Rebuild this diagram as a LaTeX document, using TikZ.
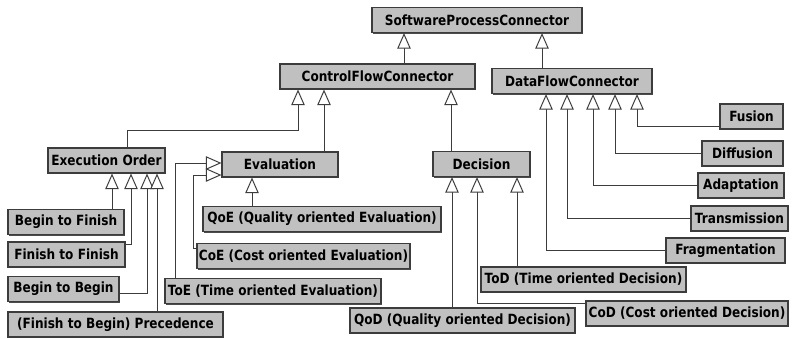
\documentclass[tikz,border=0pt]{standalone}
\usepackage{fontspec}
\setmainfont{DejaVu Sans}[FakeStretch=0.86]
\usetikzlibrary{arrows.meta,shadows}
\definecolor{boxgray}{RGB}{192,192,192}
\definecolor{edgegray}{RGB}{60,60,60}
\begin{document}
\begin{tikzpicture}[
    x=0.025cm,
    y=-0.025cm,
    every node/.style={font=\fontsize{10}{12}\selectfont\bfseries},
    cls/.style={rectangle,draw=edgegray,line width=0.8pt,fill=boxgray,inner sep=0pt,
        minimum height=0.625cm,
        drop shadow={shadow xshift=0.8pt,shadow yshift=-0.8pt,fill=black!70,opacity=1}},
    wd/.style={minimum width=#1*0.025cm},
    gen/.style={draw=edgegray,line width=0.7pt,-{Triangle[open,fill=white,length=11pt,width=9.5pt]}}
]
\useasboundingbox[fill=white] (0,0) rectangle (793,338);

\node[cls,wd=210] (spc) at (477,20) {SoftwareProcessConnector};
\node[cls,wd=195] (cfc) at (377.5,76.5) {ControlFlowConnector};
\node[cls,wd=160] (dfc) at (572,81) {DataFlowConnector};

\node[cls,wd=63] (fusion) at (751.5,116.5) {Fusion};
\node[cls,wd=81] (diffusion) at (742.5,153.5) {Diffusion};
\node[cls,wd=86] (adaptation) at (741,185.5) {Adaptation};
\node[cls,wd=97] (transmission) at (739.5,218.5) {Transmission};
\node[cls,wd=119] (fragmentation) at (725.5,250.5) {Fragmentation};

\node[cls,wd=97] (dec) at (481.5,164) {Decision};
\node[cls,wd=205] (tod) at (583.5,279.5) {ToD (Time oriented Decision)};
\node[cls,wd=202] (cod) at (687,313.5) {CoD (Cost oriented Decision)};
\node[cls,wd=225] (qod) at (462.5,320.5) {QoD (Quality oriented Decision)};

\node[cls,wd=116] (ev) at (280,164.5) {Evaluation};
\node[cls,wd=238] (qoe) at (322,219) {QoE (Quality oriented Evaluation)};
\node[cls,wd=213] (coe) at (303.5,256) {CoE (Cost oriented Evaluation)};
\node[cls,wd=216] (toe) at (273,291) {ToE (Time oriented Evaluation)};

\node[cls,wd=117] (eo) at (106.5,160.5) {Execution Order};
\node[cls,wd=116] (btf) at (66,222) {Begin to Finish};
\node[cls,wd=117] (ftf) at (66.5,254.5) {Finish to Finish};
\node[cls,wd=111] (btb) at (63.5,289) {Begin to Begin};
\node[cls,wd=215] (prec) at (115.5,324.5) {(Finish to Begin) Precedence};

\draw[gen] (cfc.north -| 404,0) -- (spc.south -| 404,0);
\draw[gen] (dfc.north -| 542,0) -- (spc.south -| 542,0);

\draw[gen] (eo.north -| 127,0) |- (298,130) -- (cfc.south -| 298,0);
\draw[gen] (ev.north -| 324,0) -- (cfc.south -| 324,0);
\draw[gen] (dec.north -| 451,0) -- (cfc.south -| 451,0);

\draw[gen] (fusion.west |- 0,126) -| (dfc.south -| 637,0);
\draw[gen] (diffusion.west) -| (dfc.south -| 615,0);
\draw[gen] (adaptation.west) -| (dfc.south -| 593,0);
\draw[gen] (transmission.west) -| (dfc.south -| 567,0);
\draw[gen] (fragmentation.west) -| (dfc.south -| 546,0);

\draw[gen] (qod.north -| 452,0) -- (dec.south -| 452,0);
\draw[gen] (cod.west |- 0,303) -| (dec.south -| 477,0);
\draw[gen] (tod.north -| 517,0) -- (dec.south -| 517,0);

\draw[gen] (qoe.north -| 252,0) -- (ev.south -| 252,0);
\draw[gen] (coe.west |- 0,248) -| (193,175) -- (ev.west |- 0,175);
\draw[gen] (toe.north -| 175,0) |- (ev.west |- 0,163);

\draw[gen] (btf.north -| 112,0) -- (eo.south -| 112,0);
\draw[gen] (ftf.east |- 0,244) -| (eo.south -| 131,0);
\draw[gen] (btb.east |- 0,293) -| (eo.south -| 147,0);
\draw[gen] (prec.north -| 157,0) -- (eo.south -| 157,0);

\end{tikzpicture}
\end{document}
